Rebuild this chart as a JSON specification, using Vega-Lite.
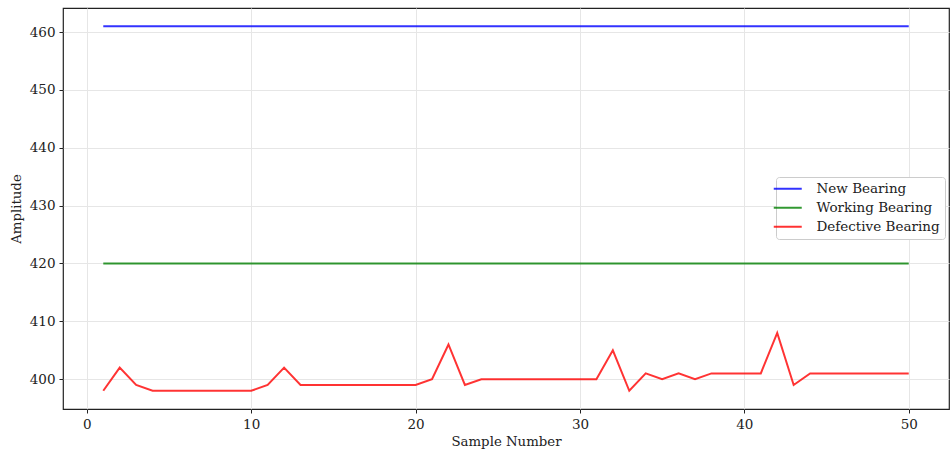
{
  "$schema": "https://vega.github.io/schema/vega-lite/v6.json",
  "width": 886,
  "height": 401,
  "autosize": {"type": "none"},
  "padding": {"left": 63, "top": 8, "right": 2, "bottom": 41},
  "background": "white",
  "config": {
    "font": "DejaVu Serif",
    "view": {"stroke": "#222222", "strokeWidth": 1.2},
    "axis": {
      "labelFont": "DejaVu Serif",
      "titleFont": "DejaVu Serif",
      "labelFontSize": 13.5,
      "titleFontSize": 13.3,
      "titleFontWeight": "normal",
      "labelColor": "#222222",
      "titleColor": "#222222",
      "domain": false,
      "tickColor": "#222222",
      "tickSize": 4,
      "gridColor": "#e6e6e6",
      "gridWidth": 1
    }
  },
  "data": {
    "values": [
      {"n": 1, "New Bearing": 461, "Working Bearing": 420, "Defective Bearing": 398},
      {"n": 2, "New Bearing": 461, "Working Bearing": 420, "Defective Bearing": 402},
      {"n": 3, "New Bearing": 461, "Working Bearing": 420, "Defective Bearing": 399},
      {"n": 4, "New Bearing": 461, "Working Bearing": 420, "Defective Bearing": 398},
      {"n": 5, "New Bearing": 461, "Working Bearing": 420, "Defective Bearing": 398},
      {"n": 6, "New Bearing": 461, "Working Bearing": 420, "Defective Bearing": 398},
      {"n": 7, "New Bearing": 461, "Working Bearing": 420, "Defective Bearing": 398},
      {"n": 8, "New Bearing": 461, "Working Bearing": 420, "Defective Bearing": 398},
      {"n": 9, "New Bearing": 461, "Working Bearing": 420, "Defective Bearing": 398},
      {"n": 10, "New Bearing": 461, "Working Bearing": 420, "Defective Bearing": 398},
      {"n": 11, "New Bearing": 461, "Working Bearing": 420, "Defective Bearing": 399},
      {"n": 12, "New Bearing": 461, "Working Bearing": 420, "Defective Bearing": 402},
      {"n": 13, "New Bearing": 461, "Working Bearing": 420, "Defective Bearing": 399},
      {"n": 14, "New Bearing": 461, "Working Bearing": 420, "Defective Bearing": 399},
      {"n": 15, "New Bearing": 461, "Working Bearing": 420, "Defective Bearing": 399},
      {"n": 16, "New Bearing": 461, "Working Bearing": 420, "Defective Bearing": 399},
      {"n": 17, "New Bearing": 461, "Working Bearing": 420, "Defective Bearing": 399},
      {"n": 18, "New Bearing": 461, "Working Bearing": 420, "Defective Bearing": 399},
      {"n": 19, "New Bearing": 461, "Working Bearing": 420, "Defective Bearing": 399},
      {"n": 20, "New Bearing": 461, "Working Bearing": 420, "Defective Bearing": 399},
      {"n": 21, "New Bearing": 461, "Working Bearing": 420, "Defective Bearing": 400},
      {"n": 22, "New Bearing": 461, "Working Bearing": 420, "Defective Bearing": 406},
      {"n": 23, "New Bearing": 461, "Working Bearing": 420, "Defective Bearing": 399},
      {"n": 24, "New Bearing": 461, "Working Bearing": 420, "Defective Bearing": 400},
      {"n": 25, "New Bearing": 461, "Working Bearing": 420, "Defective Bearing": 400},
      {"n": 26, "New Bearing": 461, "Working Bearing": 420, "Defective Bearing": 400},
      {"n": 27, "New Bearing": 461, "Working Bearing": 420, "Defective Bearing": 400},
      {"n": 28, "New Bearing": 461, "Working Bearing": 420, "Defective Bearing": 400},
      {"n": 29, "New Bearing": 461, "Working Bearing": 420, "Defective Bearing": 400},
      {"n": 30, "New Bearing": 461, "Working Bearing": 420, "Defective Bearing": 400},
      {"n": 31, "New Bearing": 461, "Working Bearing": 420, "Defective Bearing": 400},
      {"n": 32, "New Bearing": 461, "Working Bearing": 420, "Defective Bearing": 405},
      {"n": 33, "New Bearing": 461, "Working Bearing": 420, "Defective Bearing": 398},
      {"n": 34, "New Bearing": 461, "Working Bearing": 420, "Defective Bearing": 401},
      {"n": 35, "New Bearing": 461, "Working Bearing": 420, "Defective Bearing": 400},
      {"n": 36, "New Bearing": 461, "Working Bearing": 420, "Defective Bearing": 401},
      {"n": 37, "New Bearing": 461, "Working Bearing": 420, "Defective Bearing": 400},
      {"n": 38, "New Bearing": 461, "Working Bearing": 420, "Defective Bearing": 401},
      {"n": 39, "New Bearing": 461, "Working Bearing": 420, "Defective Bearing": 401},
      {"n": 40, "New Bearing": 461, "Working Bearing": 420, "Defective Bearing": 401},
      {"n": 41, "New Bearing": 461, "Working Bearing": 420, "Defective Bearing": 401},
      {"n": 42, "New Bearing": 461, "Working Bearing": 420, "Defective Bearing": 408},
      {"n": 43, "New Bearing": 461, "Working Bearing": 420, "Defective Bearing": 399},
      {"n": 44, "New Bearing": 461, "Working Bearing": 420, "Defective Bearing": 401},
      {"n": 45, "New Bearing": 461, "Working Bearing": 420, "Defective Bearing": 401},
      {"n": 46, "New Bearing": 461, "Working Bearing": 420, "Defective Bearing": 401},
      {"n": 47, "New Bearing": 461, "Working Bearing": 420, "Defective Bearing": 401},
      {"n": 48, "New Bearing": 461, "Working Bearing": 420, "Defective Bearing": 401},
      {"n": 49, "New Bearing": 461, "Working Bearing": 420, "Defective Bearing": 401},
      {"n": 50, "New Bearing": 461, "Working Bearing": 420, "Defective Bearing": 401}
    ]
  },
  "transform": [
    {"fold": ["New Bearing", "Working Bearing", "Defective Bearing"], "as": ["series", "amplitude"]}
  ],
  "mark": {"type": "line", "strokeWidth": 2, "opacity": 0.8},
  "encoding": {
    "x": {
      "field": "n",
      "type": "quantitative",
      "title": "Sample Number",
      "scale": {"domain": [-1.45, 52.45], "nice": false, "zero": false},
      "axis": {"values": [0, 10, 20, 30, 40, 50], "titlePadding": 4, "labelPadding": 4}
    },
    "y": {
      "field": "amplitude",
      "type": "quantitative",
      "title": "Amplitude",
      "scale": {"domain": [394.85, 464.15], "nice": false, "zero": false},
      "axis": {"values": [400, 410, 420, 430, 440, 450, 460], "titlePadding": 6, "labelPadding": 4}
    },
    "color": {
      "field": "series",
      "type": "nominal",
      "sort": ["New Bearing", "Working Bearing", "Defective Bearing"],
      "scale": {
        "domain": ["New Bearing", "Working Bearing", "Defective Bearing"],
        "range": ["#0000ff", "#008000", "#ff0000"]
      },
      "legend": {
        "title": null,
        "orient": "none",
        "legendX": 713,
        "legendY": 169,
        "symbolType": "M-2.8,0H2.8",
        "symbolSize": 100,
        "symbolStrokeWidth": 2,
        "symbolOpacity": 0.8,
        "symbolFillColor": "transparent",
        "labelFont": "DejaVu Serif",
        "labelFontSize": 13.5,
        "labelColor": "#222222",
        "labelOffset": 22,
        "rowPadding": 4,
        "fillColor": "white",
        "strokeColor": "#cccccc",
        "cornerRadius": 3,
        "padding": 5
      }
    }
  }
}
